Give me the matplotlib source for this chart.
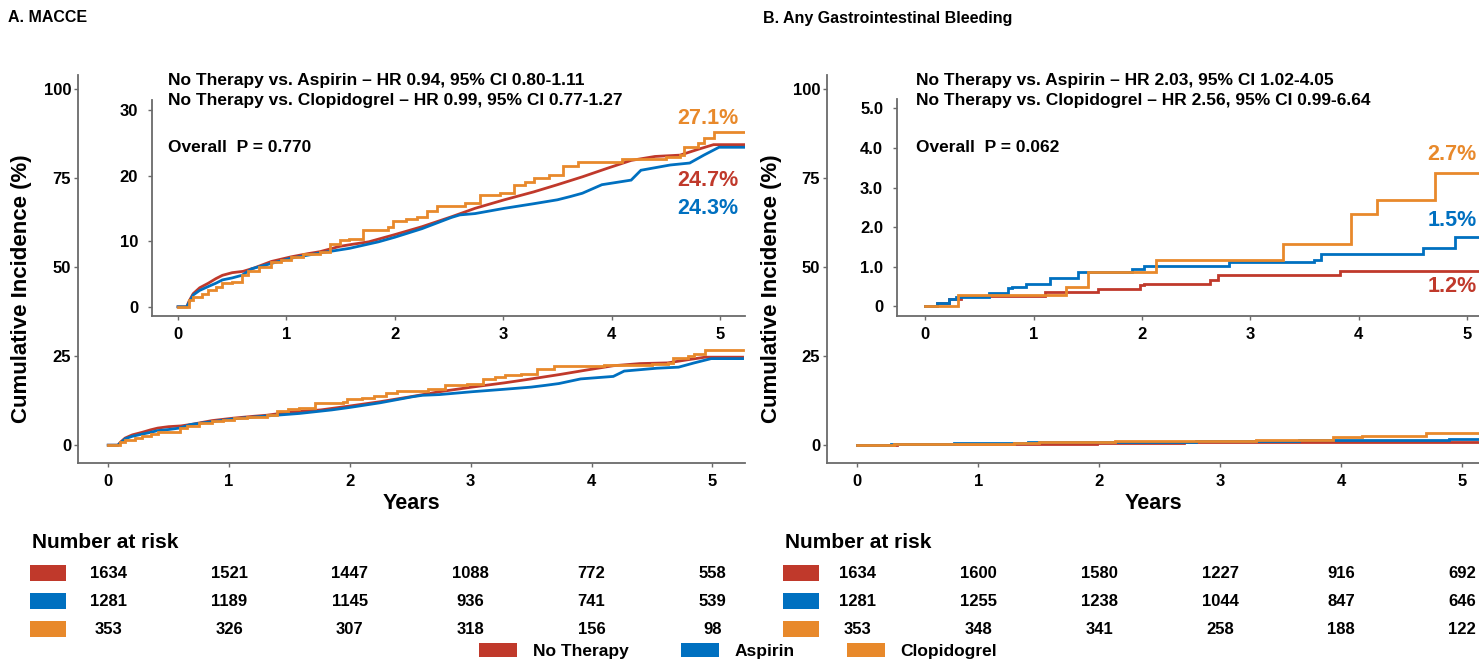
import matplotlib
matplotlib.use("Agg")
import matplotlib.pyplot as plt
from matplotlib.patches import Patch, Rectangle
from matplotlib.transforms import blended_transform_factory

W, H = 1479, 665

# colours
red = '#C0392B'
blue = '#0070C0'
orange = '#E8892B'
groups = ['No Therapy', 'Aspirin', 'Clopidogrel']
colors = [red, blue, orange]

# ---- A. MACCE, cumulative incidence (%)
a_red_t = [0, 0.08, 0.1, 0.14, 0.2, 0.28, 0.35, 0.41, 0.5, 0.6, 0.7, 0.86, 1.04, 1.2, 1.31, 1.49, 1.6,
           1.76, 2.0, 2.25, 2.52, 2.74, 3.01, 3.28, 3.5, 3.73, 3.96, 4.18, 4.4, 4.63, 4.8, 4.94, 5.25]
a_red_v = [0, 0, 0.8, 2.0, 2.9, 3.6, 4.3, 4.8, 5.2, 5.4, 5.9, 6.9, 7.6, 8.1, 8.4, 9.2, 9.5,
           9.9, 11.0, 12.2, 13.7, 15.0, 16.3, 17.5, 18.6, 19.8, 21.1, 22.3, 22.9, 23.1, 24.0, 24.7, 24.7]
a_blue_t = [0, 0.08, 0.1, 0.14, 0.2, 0.28, 0.35, 0.41, 0.5, 0.59, 0.68, 0.86, 1.04, 1.31, 1.58, 1.85,
            2.0, 2.25, 2.52, 2.6, 2.74, 3.01, 3.28, 3.5, 3.62, 3.73, 3.91, 4.18, 4.27, 4.54, 4.72, 4.85,
            4.99, 5.25]
a_blue_v = [0, 0, 0.6, 1.8, 2.5, 3.1, 3.6, 4.1, 4.4, 4.8, 5.8, 6.6, 7.4, 8.2, 8.9, 9.9,
            10.6, 11.9, 13.6, 14.0, 14.2, 15.0, 15.7, 16.3, 16.8, 17.3, 18.6, 19.3, 20.8, 21.6, 21.9, 23.1,
            24.3, 24.3]
a_orange_t = [0, 0.1, 0.14, 0.22, 0.28, 0.35, 0.41, 0.5, 0.59, 0.65, 0.75, 0.86, 0.95, 1.04, 1.15, 1.31,
              1.4, 1.49, 1.58, 1.71, 1.94, 1.98, 2.1, 2.2, 2.3, 2.39, 2.65, 2.79, 2.97, 3.1, 3.2, 3.28,
              3.42, 3.55, 3.69, 4.1, 4.5, 4.63, 4.67, 4.8, 4.85, 4.94, 5.25]
a_orange_v = [0, 1.0, 1.5, 2.0, 2.5, 3.0, 3.7, 3.8, 4.8, 5.5, 6.1, 6.9, 7.2, 7.6, 8.0, 8.4,
              9.5, 10.2, 10.4, 11.7, 12.2, 13.0, 13.3, 13.7, 14.6, 15.3, 15.8, 17.0, 17.3, 18.6, 19.0, 19.6,
              20.1, 21.4, 22.1, 22.5, 22.8, 23.1, 24.4, 24.9, 25.7, 26.7, 26.7]

# ---- B. Any GI bleeding
b_red_t = [0, 0.11, 0.22, 0.33, 1.11, 1.59, 1.98, 2.02, 2.63, 2.7, 3.83, 5.2]
b_red_v = [0, 0.07, 0.19, 0.25, 0.36, 0.43, 0.53, 0.57, 0.66, 0.78, 0.89, 0.89]
b_blue_t = [0, 0.11, 0.22, 0.28, 0.59, 0.76, 0.8, 0.93, 1.15, 1.41, 1.91, 2.02, 2.8, 3.59, 3.65, 4.59, 4.89, 5.2]
b_blue_v = [0, 0.07, 0.17, 0.22, 0.32, 0.45, 0.49, 0.56, 0.70, 0.87, 0.95, 1.01, 1.12, 1.16, 1.33, 1.46, 1.75, 1.75]
b_orange_t = [0, 0.3, 1.3, 1.5, 2.13, 3.3, 3.93, 4.17, 4.7, 5.2]
b_orange_v = [0, 0.28, 0.49, 0.87, 1.16, 1.57, 2.34, 2.68, 3.37, 3.37]

years = [0, 1, 2, 3, 4, 5]
a_risk_red = [1634, 1521, 1447, 1088, 772, 558]
a_risk_blue = [1281, 1189, 1145, 936, 741, 539]
a_risk_orange = [353, 326, 307, 318, 156, 98]
b_risk_red = [1634, 1600, 1580, 1227, 916, 692]
b_risk_blue = [1281, 1255, 1238, 1044, 847, 646]
b_risk_orange = [353, 348, 341, 258, 188, 122]

a_hr = ['No Therapy vs. Aspirin \u2013 HR 0.94, 95% CI 0.80-1.11',
        'No Therapy vs. Clopidogrel \u2013 HR 0.99, 95% CI 0.77-1.27']
a_p = 'Overall  P = 0.770'
b_hr = ['No Therapy vs. Aspirin \u2013 HR 2.03, 95% CI 1.02-4.05',
        'No Therapy vs. Clopidogrel \u2013 HR 2.56, 95% CI 0.99-6.64']
b_p = 'Overall  P = 0.062'
a_final = ['24.7%', '24.3%', '27.1%']
b_final = ['1.2%', '1.5%', '2.7%']

narrow = ['Liberation Sans Narrow', 'Liberation Sans', 'DejaVu Sans']
plt.rcParams['font.family'] = ['Liberation Sans', 'DejaVu Sans']
plt.rcParams['font.weight'] = 'bold'

fig = plt.figure(figsize=(W / 100, H / 100), dpi=100)


def rect(l, t, r, b):
    return [l / W, 1 - b / H, (r - l) / W, (b - t) / H]


def ftext(x, y, s, **kw):
    fig.text(x / W, 1 - y / H, s, **kw)


def style(ax, ylen=3, ypad=2):
    for s in ['top', 'right']:
        ax.spines[s].set_visible(False)
    for s in ['left', 'bottom']:
        ax.spines[s].set_color('#6a6a6a')
        ax.spines[s].set_linewidth(1.3)
    ax.tick_params(axis='y', length=ylen, width=1, color='#6a6a6a', pad=ypad)
    ax.tick_params(axis='x', length=3, width=1, color='#6a6a6a', pad=5)
    ax.set_xticks(years)
    ax.set_xticklabels([str(y) for y in years])
    for lab in ax.get_xticklabels() + ax.get_yticklabels():
        lab.set_family(narrow)
        lab.set_fontsize(12)
        lab.set_fontweight('bold')
    ax.patch.set_alpha(0)


def draw(ax, series, steps):
    for (t, v), c, st in zip(series, colors, steps):
        ax.plot(t, v, color=c, lw=2.0, drawstyle='steps-post' if st else 'default',
                solid_joinstyle='miter')


a_series = [(a_red_t, a_red_v), (a_blue_t, a_blue_v), (a_orange_t, a_orange_v)]
b_series = [(b_red_t, b_red_v), (b_blue_t, b_blue_v), (b_orange_t, b_orange_v)]

panels = [
    dict(main=(78, 75, 745, 463), inset=(152, 100, 745, 316), ixlim=(-0.24, 5.23),
         xlim=(-0.25, 5.27), ilim=(-1.4, 31.5), iticks=[0, 10, 20, 30],
         ilabels=['0', '10', '20', '30'], series=a_series, steps=[False, False, True],
         hr=a_hr, p=a_p, tx=168, final=a_final, fx=738, fy=[180, 208, 119],
         risk=[a_risk_red, a_risk_blue, a_risk_orange], title='A. MACCE', title_x=8, left=30,
         ylab_x=32),
    dict(main=(827, 75, 1479, 463), inset=(897, 99, 1479, 316), ixlim=(-0.26, 5.11),
         xlim=(-0.25, 5.14), ilim=(-0.25, 5.24), iticks=[0, 1, 2, 3, 4, 5],
         ilabels=['0', '1.0', '2.0', '3.0', '4.0', '5.0'], series=b_series, steps=[True, True, True],
         hr=b_hr, p=b_p, tx=916, final=b_final, fx=1477, fy=[287, 220, 155],
         risk=[b_risk_red, b_risk_blue, b_risk_orange], title='B. Any Gastrointestinal Bleeding',
         title_x=763, left=783, ylab_x=782),
]

for P in panels:
    ax = fig.add_axes(rect(*P['main']))
    draw(ax, P['series'], P['steps'])
    ax.set_xlim(*P['xlim'])
    ax.set_ylim(-5.0, 103.9)
    ax.set_yticks([0, 25, 50, 75, 100])
    style(ax)
    ax.set_xlabel('Years', fontsize=15.5, fontweight='bold', labelpad=3)
    ax.set_ylabel('Cumulative Incidence (%)', fontsize=16, fontweight='bold')
    l, t, r, b = P['main']
    ax.yaxis.set_label_coords((P['ylab_x'] - l) / (r - l), (b - 289) / (b - t))

    ins = fig.add_axes(rect(*P['inset']))
    draw(ins, P['series'], P['steps'])
    ins.set_xlim(*P['ixlim'])
    ins.set_ylim(*P['ilim'])
    ins.set_yticks(P['iticks'])
    ins.set_yticklabels(P['ilabels'])
    style(ins, ylen=3, ypad=7)

    # title and statistics
    ftext(P['title_x'], 18, P['title'], fontsize=11.5, fontweight='bold', va='center')
    ftext(P['tx'], 80, P['hr'][0], fontsize=12.5, family=narrow, fontweight='bold', va='center')
    ftext(P['tx'], 101, P['hr'][1], fontsize=12.5, family=narrow, fontweight='bold', va='center')
    ftext(P['tx'], 148, P['p'], fontsize=12.5, family=narrow, fontweight='bold', va='center')
    for s, c, y in zip(P['final'], colors, P['fy']):
        ftext(P['fx'], y, s, color=c, fontsize=15.5, fontweight='bold', va='center', ha='right')

    # number at risk table
    tr = blended_transform_factory(ax.transData, fig.transFigure)
    ftext(P['left'] + 2, 543, 'Number at risk', fontsize=15, family=narrow, fontweight='bold', va='center')
    for row, (vals, c) in enumerate(zip(P['risk'], colors)):
        y = 573 + 28 * row
        fig.patches.append(Rectangle((P['left'] / W, 1 - (y + 8) / H), 36 / W, 16 / H,
                                     transform=fig.transFigure, color=c, lw=0))
        for yr, n in zip(years, vals):
            fig.text(yr, 1 - y / H, str(n), transform=tr, ha='center', va='center',
                     fontsize=12, family=narrow, fontweight='bold')

handles = [Patch(facecolor=c, edgecolor='none') for c in colors]
fig.legend(handles, groups, loc='center', bbox_to_anchor=(738 / W, 1 - 651 / H), ncol=3,
           frameon=False, fontsize=12.5, handlelength=2.2, handleheight=0.9,
           handletextpad=0.9, columnspacing=3.0)

fig.savefig('out.png', dpi=100)
